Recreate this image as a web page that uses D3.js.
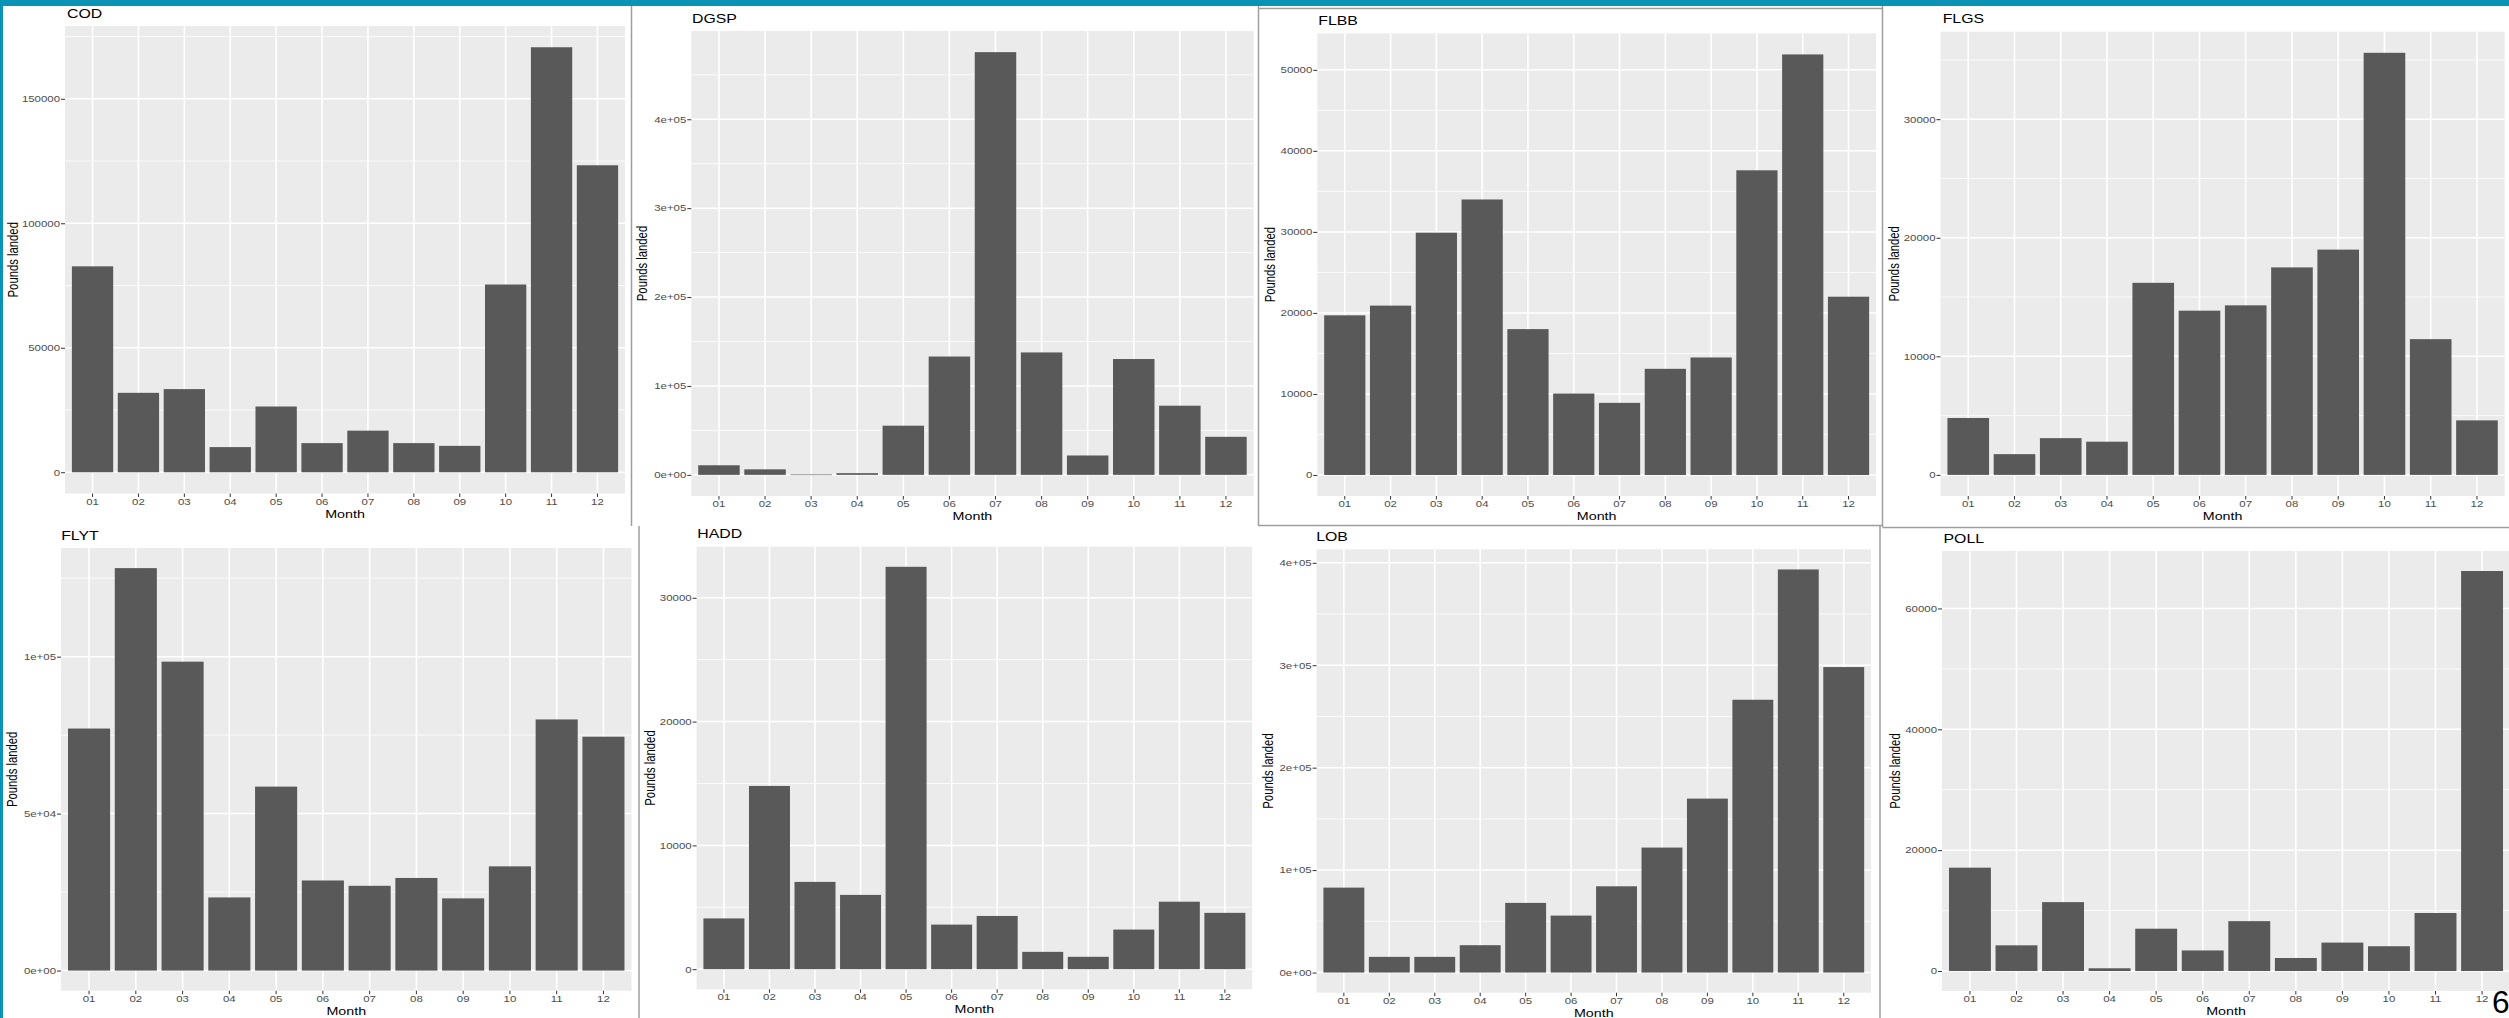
<!DOCTYPE html>
<html>
<head>
<meta charset="utf-8">
<script src="https://cdn.jsdelivr.net/npm/d3@7"></script>
<style>
  html, body { margin: 0; padding: 0; background: #ffffff; overflow: hidden; }
  svg { display: block; font-family: "Liberation Sans", Arial, Helvetica, sans-serif; }
</style>
</head>
<body>
<svg id="chart" width="2509" height="1018"></svg>
<script>
// ---- data: monthly pounds landed, by species ----
const months = ["01", "02", "03", "04", "05", "06", "07", "08", "09", "10", "11", "12"];

const codPounds  = [82700, 31900, 33400, 10100, 26400, 11700, 16700, 11700, 10600, 75400, 170700, 123300];
const dgspPounds = [10800, 6200, 400, 1900, 55300, 133100, 475500, 137700, 21800, 130300, 77800, 42800];
const flbbPounds = [19700, 20900, 29900, 34000, 18000, 10050, 8900, 13100, 14500, 37600, 51900, 22000];
const flgsPounds = [4800, 1750, 3100, 2800, 16200, 13850, 14300, 17500, 19000, 35600, 11450, 4600];
const flytPounds = [77100, 128200, 98400, 23300, 58600, 28700, 27000, 29500, 23000, 33200, 80000, 74500];
const haddPounds = [4100, 14800, 7050, 6000, 32500, 3600, 4300, 1400, 1000, 3200, 5450, 4550];
const lobPounds  = [82900, 15300, 15300, 26700, 68000, 55600, 84200, 122000, 169800, 266300, 393500, 298200];
const pollPounds = [17100, 4250, 11400, 450, 7000, 3400, 8250, 2150, 4700, 4100, 9600, 66200];

// ---- y-axis breaks and their labels ----
const codTicks  = [0, 50000, 100000, 150000];
const codLabels = ["0", "50000", "100000", "150000"];
const dgspTicks  = [0, 100000, 200000, 300000, 400000];
const dgspLabels = ["0e+00", "1e+05", "2e+05", "3e+05", "4e+05"];
const flbbTicks  = [0, 10000, 20000, 30000, 40000, 50000];
const flbbLabels = ["0", "10000", "20000", "30000", "40000", "50000"];
const flgsTicks  = [0, 10000, 20000, 30000];
const flgsLabels = ["0", "10000", "20000", "30000"];
const flytTicks  = [0, 50000, 100000];
const flytLabels = ["0e+00", "5e+04", "1e+05"];
const haddTicks  = [0, 10000, 20000, 30000];
const haddLabels = ["0", "10000", "20000", "30000"];
const lobTicks  = [0, 100000, 200000, 300000, 400000];
const lobLabels = ["0e+00", "1e+05", "2e+05", "3e+05", "4e+05"];
const pollTicks  = [0, 20000, 40000, 60000];
const pollLabels = ["0", "20000", "40000", "60000"];

const xTitle = "Month";
const yTitle = "Pounds landed";

// ---- page layout (pixel boxes of each plotting panel) ----
const panels = [
  { title: "COD",  values: codPounds,  ticks: codTicks,  labels: codLabels,  x0: 65,     x1: 625,    y0: 26,    y1: 493.5, ytx: 12.3,   tx: 67 },
  { title: "DGSP", values: dgspPounds, ticks: dgspTicks, labels: dgspLabels, x0: 691.3,  x1: 1253.6, y0: 31,    y1: 496,   ytx: 642,    tx: 692 },
  { title: "FLBB", values: flbbPounds, ticks: flbbTicks, labels: flbbLabels, x0: 1317.3, x1: 1876,   y0: 33.4,  y1: 496,   ytx: 1270,   tx: 1318.3 },
  { title: "FLGS", values: flgsPounds, ticks: flgsTicks, labels: flgsLabels, x0: 1940.5, x1: 2504.7, y0: 31.7,  y1: 496,   ytx: 1893.5, tx: 1942.7 },
  { title: "FLYT", values: flytPounds, ticks: flytTicks, labels: flytLabels, x0: 61,     x1: 631.5,  y0: 548,   y1: 990.7, ytx: 12.2,   tx: 61.2 },
  { title: "HADD", values: haddPounds, ticks: haddTicks, labels: haddLabels, x0: 696.6,  x1: 1252.2, y0: 546.7, y1: 989.3, ytx: 649.3,  tx: 697.3 },
  { title: "LOB",  values: lobPounds,  ticks: lobTicks,  labels: lobLabels,  x0: 1316.6, x1: 1871,   y0: 549.3, y1: 992.7, ytx: 1268,   tx: 1316.2 },
  { title: "POLL", values: pollPounds, ticks: pollTicks, labels: pollLabels, x0: 1942,   x1: 2510,   y0: 551,   y1: 991,   ytx: 1894.7, tx: 1943.5 }
];

// the plots sit on the slide widened horizontally
const SX = 1.3;

const svg = d3.select("#chart");
svg.append("rect").attr("width", 2509).attr("height", 1018).attr("fill", "#ffffff");

function wideText(parent, x, y, str, size, color, anchor, extra) {
  return parent.append("text")
    .attr("transform", `translate(${x},${y}) scale(${SX},1)` + (extra || ""))
    .attr("font-size", size)
    .attr("fill", color)
    .attr("text-anchor", anchor)
    .text(str);
}

function drawPanel(p) {
  const g = svg.append("g");

  const x = d3.scaleBand().domain(months).range([p.x0, p.x1])
    .paddingInner(0.1).paddingOuter(0.15);
  const maxV = d3.max(p.values);
  const y = d3.scaleLinear().domain([-0.05 * maxV, 1.05 * maxV]).range([p.y1, p.y0]);
  const [lo, hi] = y.domain();

  // grey panel
  g.append("rect")
    .attr("x", p.x0).attr("y", p.y0)
    .attr("width", p.x1 - p.x0).attr("height", p.y1 - p.y0)
    .attr("fill", "#EBEBEB");

  // minor horizontal grid
  const step = p.ticks[1] - p.ticks[0];
  const minor = [p.ticks[0] - step / 2].concat(p.ticks.map(t => t + step / 2))
    .filter(v => v > lo && v < hi);
  g.selectAll("line.minor").data(minor).join("line")
    .attr("class", "minor")
    .attr("x1", p.x0).attr("x2", p.x1)
    .attr("y1", d => y(d)).attr("y2", d => y(d))
    .attr("stroke", "#ffffff").attr("stroke-width", 0.8);

  // major horizontal grid
  g.selectAll("line.major").data(p.ticks).join("line")
    .attr("class", "major")
    .attr("x1", p.x0).attr("x2", p.x1)
    .attr("y1", d => y(d)).attr("y2", d => y(d))
    .attr("stroke", "#ffffff").attr("stroke-width", 1.5);

  // vertical grid at each month
  g.selectAll("line.vgrid").data(months).join("line")
    .attr("class", "vgrid")
    .attr("x1", d => x(d) + x.bandwidth() / 2).attr("x2", d => x(d) + x.bandwidth() / 2)
    .attr("y1", p.y0).attr("y2", p.y1)
    .attr("stroke", "#ffffff").attr("stroke-width", 1.6);

  // bars
  g.selectAll("rect.bar").data(p.values).join("rect")
    .attr("class", "bar")
    .attr("x", (d, i) => x(months[i]))
    .attr("width", x.bandwidth())
    .attr("y", d => y(d))
    .attr("height", d => Math.max(0.6, y(0) - y(d)))
    .attr("fill", "#595959");

  // y axis
  const yAxis = g.append("g")
    .attr("transform", `translate(${p.x0},0)`)
    .call(d3.axisLeft(y).tickValues(p.ticks)
      .tickFormat((d, i) => p.labels[i]).tickSize(4).tickPadding(1));
  yAxis.select(".domain").remove();
  yAxis.selectAll(".tick line").attr("stroke", "#333333").attr("stroke-width", 1);
  yAxis.selectAll(".tick text")
    .attr("x", -5 / SX)
    .attr("transform", `scale(${SX},1)`)
    .attr("font-size", 8.8)
    .attr("fill", "#4D4D4D")
    .attr("font-family", null);

  // x axis
  const xAxis = g.append("g")
    .attr("transform", `translate(0,${p.y1})`)
    .call(d3.axisBottom(x).tickSize(3.5).tickPadding(1.3));
  xAxis.select(".domain").remove();
  xAxis.selectAll(".tick line").attr("stroke", "#333333").attr("stroke-width", 1);
  xAxis.selectAll(".tick text")
    .attr("transform", `scale(${SX},1)`)
    .attr("font-size", 8.8)
    .attr("fill", "#4D4D4D")
    .attr("font-family", null);

  // titles
  wideText(g, p.tx, p.y0 - 8.4, p.title, 12.2, "#000000", "start");
  wideText(g, (p.x0 + Math.min(p.x1, 2509)) / 2 + (p.x1 > 2509 ? (p.x1 - 2509) / 2 : 0), p.y1 + 24, xTitle, 11, "#000000", "middle");
  wideText(g, p.ytx, (p.y0 + p.y1) / 2, yTitle, 11.3, "#000000", "middle", " rotate(-90)")
    .attr("dy", "0.36em");
}

panels.forEach(drawPanel);

// frames around the pasted plots
const frame = svg.append("g").attr("stroke", "#9e9e9e").attr("stroke-width", 1.5).attr("fill", "none");
[
  [631.5, 6, 631.5, 526],
  [1258.5, 6, 1258.5, 526],
  [1258.5, 8.6, 1883, 8.6],
  [1258.5, 525.5, 1883, 525.5],
  [1882.5, 6, 1882.5, 527],
  [1882.5, 527.5, 2509, 527.5],
  [639, 526, 639, 1018],
  [1880, 525, 1880, 1018]
].forEach(s => frame.append("line")
  .attr("x1", s[0]).attr("y1", s[1]).attr("x2", s[2]).attr("y2", s[3]));

// slide border
svg.append("rect").attr("x", 0).attr("y", 0).attr("width", 2509).attr("height", 6).attr("fill", "#0A93B4");
svg.append("rect").attr("x", 0).attr("y", 0).attr("width", 3).attr("height", 1018).attr("fill", "#0A93B4");

// slide number
svg.append("text")
  .attr("x", 2492).attr("y", 1013)
  .attr("font-size", 31.7)
  .attr("fill", "#000000")
  .text("6");
</script>
</body>
</html>
